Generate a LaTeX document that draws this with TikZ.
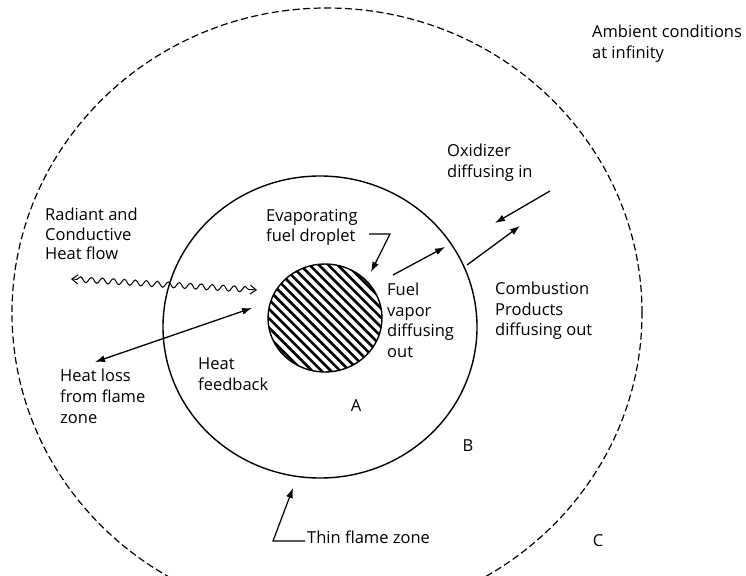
\documentclass[tikz,border=0pt]{standalone}
\usepackage{fontspec}
\setmainfont{Open Sans}
\usetikzlibrary{arrows.meta, shapes.geometric, decorations.pathmorphing}

\begin{document}
\begin{tikzpicture}[x=1pt, y=-1pt,
  lbl/.style={align=left, anchor=north west, inner sep=0pt, font=\fontsize{16.5}{20.5}\selectfont},
  zone/.style={font=\fontsize{16.5}{20}\selectfont, inner sep=0pt},
  ring/.style={ellipse, draw, inner sep=0pt, outer sep=0pt},
  arr/.style={-{Latex[length=10pt, width=7pt]}, line width=1.3pt},
  lead/.style={line width=1.2pt},
]
  \useasboundingbox (0,0) rectangle (746,575);
  \clip (0,0) rectangle (746,575);

  \node[ring, line width=1.2pt, dash pattern=on 7pt off 3.5pt, minimum width=630pt, minimum height=610pt] (ambient) at (327,313) {};
  \node[ring, line width=1.4pt, minimum width=314pt, minimum height=302pt] (flame) at (320,327) {};

  \begin{scope}
    \clip (325,318) ellipse [x radius=57, y radius=54];
    \foreach \k in {-18,...,18}
      \draw[line width=2.6pt] ({325+\k*9.4-90},{318-90}) -- ++(180,180);
  \end{scope}
  \node[ring, line width=1.4pt, minimum width=114pt, minimum height=108pt] (drop) at (325,318) {};

  \node[lbl] (amb) at (592,25) {Ambient conditions\\at infinity};
  \node[lbl] (oxid) at (447,144) {Oxidizer\\diffusing in};
  \node[lbl, font=\fontsize{16.5}{19.5}\selectfont] (rad) at (45,208) {Radiant and\\Conductive\\Heat flow};
  \node[lbl] (evap) at (266,209) {Evaporating\\fuel droplet};
  \node[lbl] (fuel) at (387,283) {Fuel\\vapor\\diffusing\\out};
  \node[lbl] (comb) at (495,282) {Combustion\\Products\\diffusing out};
  \node[lbl, font=\fontsize{16.5}{21}\selectfont] (loss) at (60,369) {Heat loss\\from flame\\zone};
  \node[lbl] (feed) at (198,358) {Heat\\feedback};
  \node[zone] (zA) at (356,406) {A};
  \node[zone] (zB) at (468,446) {B};
  \node[zone] (zC) at (598,541) {C};
  \node[zone, anchor=west] (thin) at (307,537) {Thin flame zone};

  \coordinate (oxOut) at (550,191);
  \coordinate (oxIn) at (495,223);
  \coordinate (prodA) at (467,265);
  \coordinate (prodB) at (520,226);
  \coordinate (vapA) at (393,275);
  \coordinate (vapB) at (445,247);
  \coordinate (lossA) at (95,362);
  \coordinate (lossB) at (252,308);
  \coordinate (radA) at (71,279);
  \coordinate (radB) at (257,290);
  \coordinate (evapA) at (369,234);
  \coordinate (evapB) at (390,234);
  \coordinate (evapC) at (371,272);
  \coordinate (thinA) at (305,541);
  \coordinate (thinB) at (273,541);
  \coordinate (thinC) at (293,488);

  \draw[arr] (oxOut) -- (oxIn);
  \draw[arr] (prodA) -- (prodB);
  \draw[arr] (vapA) -- (vapB);
  \draw[arr, {Latex[length=10pt, width=7pt]}-{Latex[length=10pt, width=7pt]}] (lossA) -- (lossB);
  \draw[line width=1pt, {Straight Barb[length=6pt, width=9pt]}-{Straight Barb[length=6pt, width=9pt]},
    decorate, decoration={snake, amplitude=2.8pt, segment length=11pt, pre length=6pt, post length=6pt}] (radA) -- (radB);
  \draw[lead, -{Latex[length=10pt, width=7pt]}] (evapA) -- (evapB) -- (evapC);
  \draw[lead, -{Latex[length=10pt, width=7pt]}] (thinA) -- (thinB) -- (thinC);
\end{tikzpicture}
\end{document}
